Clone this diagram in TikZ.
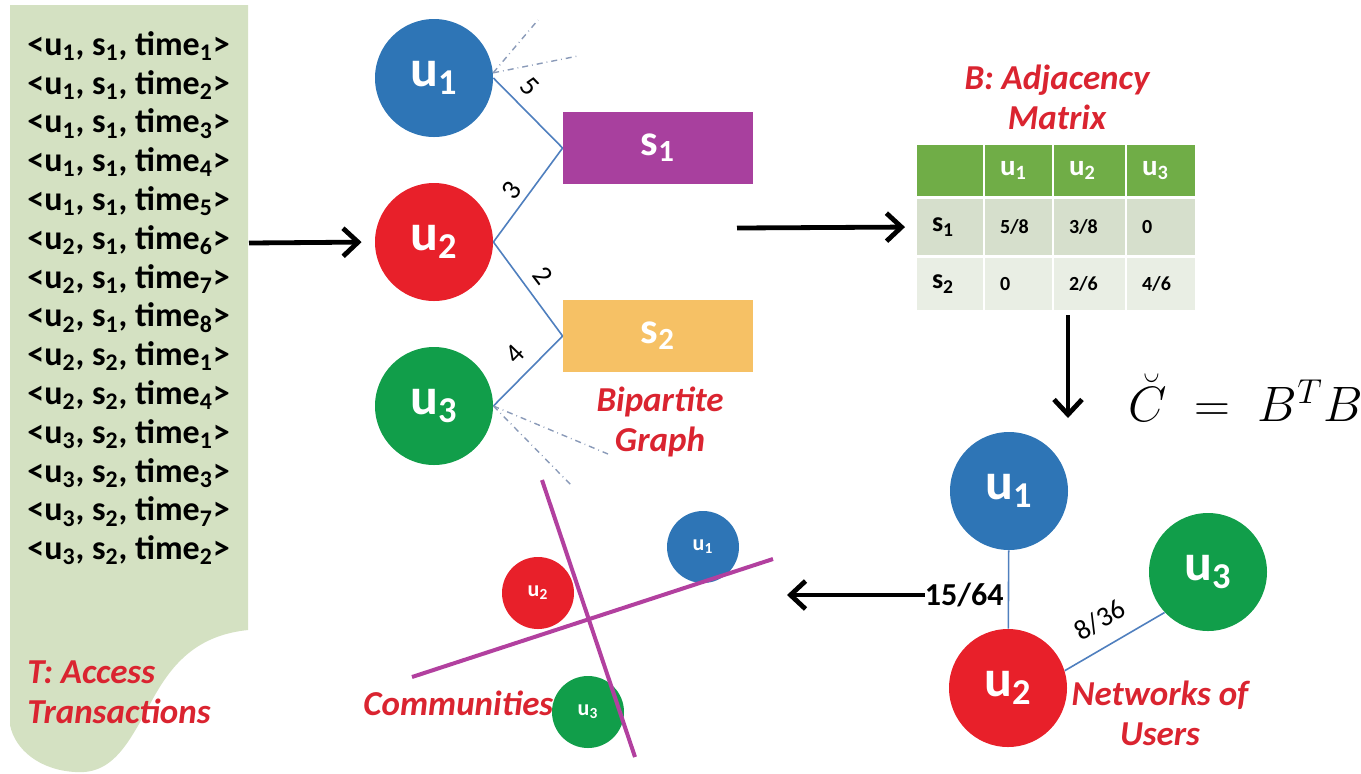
\documentclass[tikz,border=0pt]{standalone}
\usepackage{fontspec}
\setmainfont{Carlito}
\usetikzlibrary{arrows.meta}

\definecolor{ublue}{HTML}{2E75B6}
\definecolor{ured}{HTML}{E8202A}
\definecolor{ugreen}{HTML}{119E4A}
\definecolor{spurple}{HTML}{A8409E}
\definecolor{sorange}{HTML}{F6C165}
\definecolor{panelgreen}{HTML}{D4E1C2}
\definecolor{lblred}{HTML}{DA2430}
\definecolor{edgeblue}{HTML}{4F7FBE}
\definecolor{dashgrey}{HTML}{8A9AB8}
\definecolor{hdrgreen}{HTML}{70AD47}
\definecolor{rowa}{HTML}{D6DFCC}
\definecolor{rowb}{HTML}{E9EEE4}
\definecolor{cutline}{HTML}{B2409F}

\newcommand\lo[1]{\textsubscript{#1}}
\newcommand\tup[3]{<u\lo{#1}, s\lo{#2}, time\lo{#3}>}

\tikzset{
  tuple/.style={anchor=west, inner sep=0pt, font=\fontsize{17}{20}\selectfont\bfseries},
  redlabel/.style={inner sep=0pt, text=lblred, align=center,
    font=\fontsize{17.5}{20}\selectfont\bfseries\itshape},
  bigcirc/.style={circle, inner sep=0pt, minimum size=59pt, text=white,
    font=\fontsize{26}{26}\selectfont\bfseries},
  smallcirc/.style={circle, inner sep=0pt, minimum size=36pt, text=white,
    font=\fontsize{11}{11}\selectfont\bfseries},
  servbox/.style={rectangle, inner sep=0pt, minimum width=95pt, minimum height=36pt,
    text=white, font=\fontsize{22}{22}\selectfont\bfseries},
  wlabel/.style={inner sep=0pt, font=\fontsize{14}{14}\selectfont},
  uedge/.style={edgeblue, line width=0.8pt},
  dashedge/.style={dashgrey, dash dot, line width=0.7pt},
  bigarrow/.style={line width=2.4pt, -{Straight Barb[length=7.5pt,width=14pt]}},
  cutter/.style={cutline, line width=2pt},
  cell/.style={rectangle, anchor=north west, draw=white, line width=1pt,
    inner xsep=8pt, inner ysep=0pt, align=left},
  hcell/.style={cell, fill=hdrgreen, text=white, font=\fontsize{14.5}{14}\selectfont\bfseries},
  bcell/.style={cell, font=\fontsize{10}{10}\selectfont\bfseries},
  rcell/.style={cell, font=\fontsize{14}{14}\selectfont\bfseries},
}

\begin{document}
\begin{tikzpicture}[x=0.5pt, y=-0.5pt]
\useasboundingbox (0,0) rectangle (1361,773);

% ---- access transactions panel ----
\fill[panelgreen] (10,5) -- (248,5) -- (248,630)
  .. controls (200,635) and (175,660) .. (155,695)
  .. controls (130,740) and (115,775) .. (75,772)
  .. controls (40,770) and (15,750) .. (10,725) -- cycle;
\foreach \u/\s/\t [count=\i] in {1/1/1, 1/1/2, 1/1/3, 1/1/4, 1/1/5, 2/1/6, 2/1/7,
    2/1/8, 2/2/1, 2/2/4, 3/2/1, 3/2/3, 3/2/7, 3/2/2}
  \node[tuple] (r\i) at (27,{46+(\i-1)*38.8}) {\tup{\u}{\s}{\t}};
\node[redlabel, align=left, anchor=west] (tlabel) at (27,692) {T: Access\\Transactions};

% ---- bipartite graph ----
\node[bigcirc, fill=ublue]  (bu1) at (434,78)  {u\lo{1}};
\node[bigcirc, fill=ured]   (bu2) at (434,242) {u\lo{2}};
\node[bigcirc, fill=ugreen] (bu3) at (434,406) {u\lo{3}};
\node[servbox, fill=spurple] (s1) at (658,148) {s\lo{1}};
\node[servbox, fill=sorange] (s2) at (658,336) {s\lo{2}};

\draw[uedge] (bu1.east) -- (s1.west);
\draw[uedge] (bu2.east) -- (s1.west);
\draw[uedge] (bu2.east) -- (s2.west);
\draw[uedge] (bu3.east) -- (s2.west);

\node[wlabel, rotate=-46] (w5) at (530,86)  {5};
\node[wlabel, rotate=53]  (w3) at (512,190) {3};
\node[wlabel, rotate=-53] (w2) at (543,276) {2};
\node[wlabel, rotate=46]  (w4) at (515,354) {4};

\coordinate (d1) at (538,20);
\coordinate (d2) at (578,56);
\coordinate (d3) at (608,454);
\coordinate (d4) at (572,486);
\draw[dashedge] (bu1.5) -- (d1);
\draw[dashedge] (bu1.5) -- (d2);
\draw[dashedge] (bu3.east) -- (d3);
\draw[dashedge] (bu3.east) -- (d4);

\node[redlabel] (bplabel) at (660,422) {Bipartite\\Graph};

% ---- adjacency matrix ----
\node[redlabel] (bmlabel) at (1057,97) {B: Adjacency\\Matrix};

\node[hcell, text width=18pt,   minimum height=26.5pt] (h0) at (915,143)  {};
\node[hcell, text width=18.5pt, minimum height=26.5pt] (h1) at (983,143)  {u\lo{1}};
\node[hcell, text width=20.5pt, minimum height=26.5pt] (h2) at (1052,143) {u\lo{2}};
\node[hcell, text width=19pt,   minimum height=26.5pt] (h3) at (1125,143) {u\lo{3}};

\node[rcell, fill=rowa, text width=18pt,   minimum height=29pt] (a0) at (915,197)  {s\lo{1}};
\node[bcell, fill=rowa, text width=18.5pt, minimum height=29pt] (a1) at (983,197)  {5/8};
\node[bcell, fill=rowa, text width=20.5pt, minimum height=29pt] (a2) at (1052,197) {3/8};
\node[bcell, fill=rowa, text width=19pt,   minimum height=29pt] (a3) at (1125,197) {0};

\node[rcell, fill=rowb, text width=18pt,   minimum height=27pt] (b0) at (915,256)  {s\lo{2}};
\node[bcell, fill=rowb, text width=18.5pt, minimum height=27pt] (b1) at (983,256)  {0};
\node[bcell, fill=rowb, text width=20.5pt, minimum height=27pt] (b2) at (1052,256) {2/6};
\node[bcell, fill=rowb, text width=19pt,   minimum height=27pt] (b3) at (1125,256) {4/6};

% ---- formula ----
\node[inner sep=0pt, anchor=west, font=\fontsize{23.5}{28}\selectfont] (ceq) at (1128,398)
  {$\breve{C} \;=\; B^{T}B$};

% ---- network of users ----
\node[bigcirc, fill=ublue]  (nu1) at (1009,491) {u\lo{1}};
\node[bigcirc, fill=ured]   (nu2) at (1008,688) {u\lo{2}};
\node[bigcirc, fill=ugreen] (nu3) at (1208,572) {u\lo{3}};
\draw[uedge] (nu1) -- (nu2);
\draw[uedge] (nu2.17) -- (nu3.223);
\node[inner sep=0pt, anchor=east, font=\fontsize{16}{16}\selectfont\bfseries] (w1564) at (1004,595) {15/64};
\node[inner sep=0pt, rotate=31, font=\fontsize{14}{14}\selectfont] (w836) at (1100,620) {8/36};
\node[redlabel] (nwlabel) at (1160,713) {Networks of\\Users};

% ---- communities ----
\node[redlabel, anchor=west] (cmlabel) at (363,703) {Communities};
\node[smallcirc, fill=ured]   (cu2) at (538,593) {u\lo{2}};
\node[smallcirc, fill=ublue]  (cu1) at (703,547) {u\lo{1}};
\node[smallcirc, fill=ugreen] (cu3) at (588,712) {u\lo{3}};
\coordinate (c1a) at (542,480);
\coordinate (c1b) at (635,757);
\coordinate (c2a) at (412,677);
\coordinate (c2b) at (773,559);
\draw[cutter] (c1a) -- (c1b);
\draw[cutter] (c2a) -- (c2b);

% ---- flow arrows ----
\coordinate (a1s) at (249,243);
\draw[bigarrow, shorten >=6.5pt] (a1s) -- (bu2.west);
\coordinate (a2s) at (737,228);
\draw[bigarrow, shorten >=5pt] (a2s) -- (a0.west);
\coordinate (a3s) at (1068,315);
\coordinate (a3e) at (1068,418);
\draw[bigarrow] (a3s) -- (a3e);
\coordinate (a4e) at (787,595);
\draw[bigarrow] (w1564.west) -- (a4e);
\end{tikzpicture}
\end{document}
